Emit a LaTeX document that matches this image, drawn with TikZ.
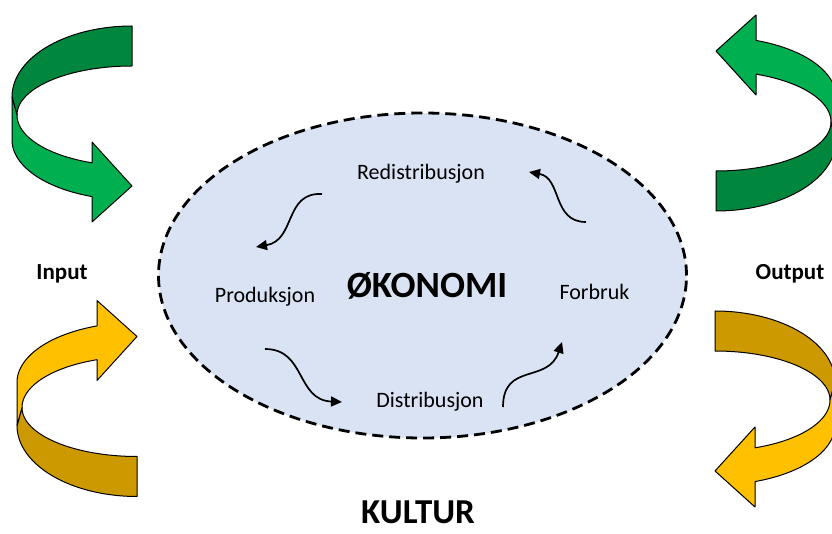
\documentclass[tikz,border=0pt]{standalone}
\usepackage{fontspec}
\setmainfont{Carlito}
\usetikzlibrary{arrows.meta,shapes.geometric}

\definecolor{greenD}{HTML}{00873D}
\definecolor{greenL}{HTML}{00B050}
\definecolor{goldD}{HTML}{CC9A00}
\definecolor{goldL}{HTML}{FFC000}
\definecolor{ecofill}{HTML}{DAE3F3}

% A bent ribbon arrow: #1 = colour of the back (tail) part, #2 = colour of the front (head) part
\newcommand{\ribbonarrow}[2]{%
  \filldraw[fill=#1, ribbon]
    plot[domain=270:180, samples=50] ({132+120*cos(\x)},{97+71*sin(\x)})
    -- (17,115)
    -- plot[domain=180:270, samples=50] ({132+115*cos(\x)},{115+49*sin(\x)})
    -- cycle;
  \filldraw[fill=#2, ribbon]
    (12,97)
    -- plot[domain=180:109.47, samples=50] ({132+120*cos(\x)},{140+60*sin(\x)})
    -- (92,222) -- (132,186) -- (92,142)
    -- plot[domain=110.35:180, samples=50] ({132+115*cos(\x)},{115+51*sin(\x)})
    -- cycle;
}

\tikzset{
  ribbon/.style={draw=black, line width=1pt, line join=round},
  cycarrow/.style={line width=1.7pt, -{Triangle[length=11pt,width=10pt]}},
  label/.style={font=\fontsize{22}{26}\selectfont, anchor=base, inner sep=0pt},
  heading/.style={font=\bfseries\fontsize{23}{27}\selectfont, anchor=base, inner sep=0pt},
}

\begin{document}
\begin{tikzpicture}[x=1pt, y=-1pt]
\useasboundingbox (0,0) rectangle (832,534);

% ribbon arrows
\begin{scope}
  \ribbonarrow{greenD}{greenL}
\end{scope}
\begin{scope}[shift={(5,522.5)}, yscale=-1]
  \ribbonarrow{goldD}{goldL}
\end{scope}
\begin{scope}[shift={(848,237)}, xscale=-1, yscale=-1]
  \ribbonarrow{greenD}{greenL}
\end{scope}
\begin{scope}[shift={(847,285)}, xscale=-1]
  \ribbonarrow{goldD}{goldL}
\end{scope}

% economy ellipse
\node[ellipse, draw=black, fill=ecofill, line width=2.8pt, dash pattern=on 11pt off 6pt,
      minimum width=528pt, minimum height=325pt, inner sep=0pt] (eco) at (422.5,275.5) {};

\node[label] (redis) at (421,180) {Redistribusjon};
\node[label] (prod) at (265,303) {Produksjon};
\node[label] (forb) at (594.5,300) {Forbruk};
\node[label] (dist) at (430,407) {Distribusjon};
\node[font=\bfseries\fontsize{37}{41}\selectfont, anchor=base, inner sep=0pt] (okon) at (427,298) {ØKONOMI};

\node[heading] (input) at (62,280) {Input};
\node[heading] (output) at (790,280) {Output};
\node[font=\bfseries\fontsize{35}{39}\selectfont, anchor=base, inner sep=0pt] (kultur) at (418,523) {KULTUR};

% circulation arrows
\coordinate (a1s) at (322,194); \coordinate (a1e) at (256,247);
\coordinate (a2s) at (265,349); \coordinate (a2e) at (342,402);
\coordinate (a3s) at (503,407); \coordinate (a3e) at (562,342);
\coordinate (a4s) at (586,222); \coordinate (a4e) at (529,172);

\draw[cycarrow] (a1s) .. controls (284,192) and (296,240) .. (a1e);
\draw[cycarrow] (a2s) .. controls (306,349) and (296,400) .. (a2e);
\draw[cycarrow] (a3s) .. controls (503,362) and (548,384) .. (a3e);
\draw[cycarrow] (a4s) .. controls (552,222) and (562,178) .. (a4e);
\end{tikzpicture}
\end{document}
